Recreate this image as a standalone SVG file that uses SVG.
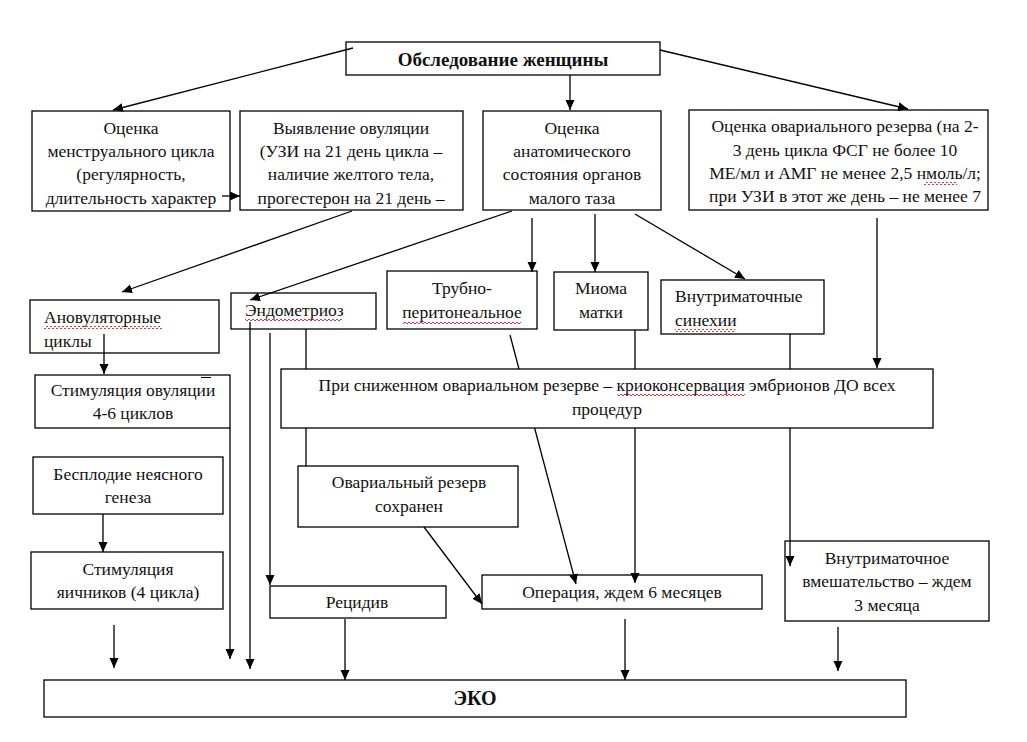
<svg xmlns="http://www.w3.org/2000/svg" width="1027" height="742" viewBox="0 0 1027 742">
<style>
.b{fill:#fff;stroke:#000;stroke-width:1.3}
.t{font-family:"Liberation Serif","Times New Roman",serif;font-size:17.5px;fill:#111;text-anchor:middle}
.l{text-anchor:start}
.bold{font-weight:bold;font-size:19px}
.c{stroke:#000;stroke-width:1.3;fill:none}
.a{marker-end:url(#ah)}
.sq{fill:url(#wave)}
</style>
<defs>
<marker id="ah" markerUnits="userSpaceOnUse" markerWidth="11" markerHeight="10" refX="10" refY="4.5" orient="auto"><path d="M0,0 L10,4.5 L0,9 z" fill="#000"/></marker>
<pattern id="wave" patternUnits="userSpaceOnUse" width="4" height="3"><path d="M0 2 Q1 0 2 2 T4 2" stroke="#d22" stroke-width="0.9" fill="none"/></pattern>
<clipPath id="k1"><rect x="32" y="111" width="198" height="100"/></clipPath>
<clipPath id="k2"><rect x="240" y="111" width="223" height="99"/></clipPath>
<clipPath id="k3"><rect x="483" y="111" width="178" height="99"/></clipPath>
<clipPath id="k4"><rect x="689" y="110" width="299" height="100"/></clipPath>
</defs>
<rect width="1027" height="742" fill="#fff"/>
<g id="n-top"><rect class="b" x="346" y="42" width="314" height="33"/><text class="t bold" x="503" y="66">Обследование женщины</text></g>
<g id="n-mens"><rect class="b" x="32" y="111" width="198" height="100"/><g clip-path="url(#k1)"><text class="t" x="131" y="134">Оценка</text><text class="t" x="131" y="157">менструального цикла</text><text class="t" x="131" y="180">(регулярность,</text><text class="t" x="131" y="204">длительность характер</text></g></g>
<g id="n-ovul"><rect class="b" x="240" y="111" width="223" height="99"/><g clip-path="url(#k2)"><text class="t" x="351" y="134">Выявление овуляции</text><text class="t" x="351" y="157">(УЗИ на 21 день цикла –</text><text class="t" x="351" y="180">наличие желтого тела,</text><text class="t" x="351" y="204">прогестерон на 21 день –</text></g></g>
<g id="n-anat"><rect class="b" x="483" y="111" width="178" height="99"/><g clip-path="url(#k3)"><text class="t" x="572" y="134">Оценка</text><text class="t" x="572" y="157">анатомического</text><text class="t" x="572" y="180">состояния органов</text><text class="t" x="572" y="204">малого таза</text></g></g>
<g id="n-reserve"><rect class="b" x="689" y="110" width="299" height="100"/><g clip-path="url(#k4)"><text class="t" x="845" y="132">Оценка овариального резерва (на 2-</text><text class="t" x="845" y="156">3 день цикла ФСГ не более 10</text><text class="t" x="845" y="179">МЕ/мл и АМГ не менее 2,5 нмоль/л;</text><text class="t" x="845" y="202">при УЗИ в этот же день – не менее 7</text></g><rect class="sq" x="924" y="182" width="33" height="3"/></g>
<g id="n-anov"><rect class="b" x="30" y="300" width="189" height="53"/><text class="t l" x="44" y="323">Ановуляторные</text><text class="t l" x="44" y="347">циклы</text><rect class="sq" x="44" y="326" width="118" height="3"/></g>
<g id="n-endo"><rect class="b" x="231" y="293" width="145" height="36"/><text class="t l" x="245" y="316">Эндометриоз</text><rect class="sq" x="245" y="319" width="97" height="3"/></g>
<g id="n-tubo"><rect class="b" x="387" y="271" width="150" height="58"/><text class="t" x="462" y="294">Трубно-</text><text class="t" x="462" y="318">перитонеальное</text><rect class="sq" x="403" y="321" width="118" height="3"/></g>
<g id="n-myoma"><rect class="b" x="554" y="272" width="94" height="58"/><text class="t" x="601" y="294">Миома</text><text class="t" x="601" y="318">матки</text></g>
<g id="n-syn"><rect class="b" x="661" y="280" width="163" height="54"/><text class="t l" x="675" y="302">Внутриматочные</text><text class="t l" x="675" y="326">синехии</text><rect class="sq" x="675" y="329" width="60" height="3"/></g>
<g id="n-stimov"><rect class="b" x="35" y="375" width="195" height="53"/><text class="t" x="133" y="396">Стимуляция овуляции</text><text class="t" x="133" y="419">4-6 циклов</text><line x1="201" y1="377.5" x2="211" y2="377.5" stroke="#000" stroke-width="1"/></g>
<g id="n-low"><rect class="b" x="281" y="369" width="652" height="59"/><text class="t" x="607" y="391">При сниженном овариальном резерве – криоконсервация эмбрионов ДО всех</text><text class="t" x="607" y="415">процедур</text><rect class="sq" x="617" y="394" width="128" height="3"/></g>
<g id="n-unexpl"><rect class="b" x="33" y="457" width="190" height="57"/><text class="t" x="128" y="480">Бесплодие неясного</text><text class="t" x="128" y="503">генеза</text></g>
<g id="n-ovok"><rect class="b" x="298" y="466" width="220" height="61"/><text class="t" x="409" y="488">Овариальный резерв</text><text class="t" x="409" y="512">сохранен</text></g>
<g id="n-stimov2"><rect class="b" x="31" y="552" width="192" height="57"/><text class="t" x="128" y="575">Стимуляция</text><text class="t" x="128" y="598">яичников (4 цикла)</text></g>
<g id="n-relapse"><rect class="b" x="270" y="586" width="176" height="32"/><text class="t" x="357" y="608">Рецидив</text></g>
<g id="n-oper"><rect class="b" x="482" y="575" width="280" height="34"/><text class="t" x="622" y="598">Операция, ждем 6 месяцев</text></g>
<g id="n-intra"><rect class="b" x="785" y="541" width="204" height="80"/><text class="t" x="887" y="564">Внутриматочное</text><text class="t" x="887" y="587">вмешательство – ждем</text><text class="t" x="887" y="611">3 месяца</text></g>
<g id="n-eco"><rect class="b" x="44" y="680" width="862" height="37"/><text class="t bold" x="475" y="705" style="font-size:20px">ЭКО</text></g>
<g id="connectors">
<line class="c a" x1="353" y1="48" x2="113" y2="110"/>
<line class="c a" x1="570" y1="75" x2="570" y2="110"/>
<line class="c a" x1="660" y1="50" x2="908" y2="109"/>
<line class="c a" x1="222" y1="196" x2="240" y2="196"/>
<line class="c a" x1="352" y1="211" x2="122" y2="292"/>
<line class="c a" x1="512" y1="211" x2="250" y2="300"/>
<line class="c a" x1="532" y1="218" x2="532" y2="272"/>
<line class="c a" x1="595" y1="214" x2="595" y2="272"/>
<line class="c a" x1="635" y1="214" x2="745" y2="279"/>
<line class="c a" x1="877" y1="218" x2="877" y2="368"/>
<line class="c a" x1="104" y1="334" x2="104" y2="374"/>
<line class="c a" x1="230" y1="428" x2="230" y2="659"/>
<line class="c a" x1="250" y1="322" x2="250" y2="669"/>
<line class="c a" x1="270" y1="333" x2="270" y2="585"/>
<line class="c" x1="306" y1="329" x2="306" y2="369"/>
<line class="c" x1="306" y1="428" x2="306" y2="466"/>
<line class="c" x1="510" y1="335" x2="519.0" y2="369"/>
<line class="c a" x1="534.6" y1="428" x2="576" y2="584"/>
<line class="c" x1="635" y1="330" x2="635" y2="369"/>
<line class="c a" x1="635" y1="428" x2="635" y2="583"/>
<line class="c" x1="790" y1="334" x2="790" y2="369"/>
<line class="c a" x1="790" y1="428" x2="790" y2="566"/>
<line class="c a" x1="103" y1="514" x2="103" y2="552"/>
<line class="c a" x1="114" y1="625" x2="114" y2="668"/>
<line class="c a" x1="424" y1="527" x2="482" y2="604"/>
<line class="c a" x1="345" y1="619" x2="345" y2="680"/>
<line class="c a" x1="625" y1="619" x2="625" y2="680"/>
<line class="c a" x1="838" y1="627" x2="838" y2="671"/>
</g>
</svg>
